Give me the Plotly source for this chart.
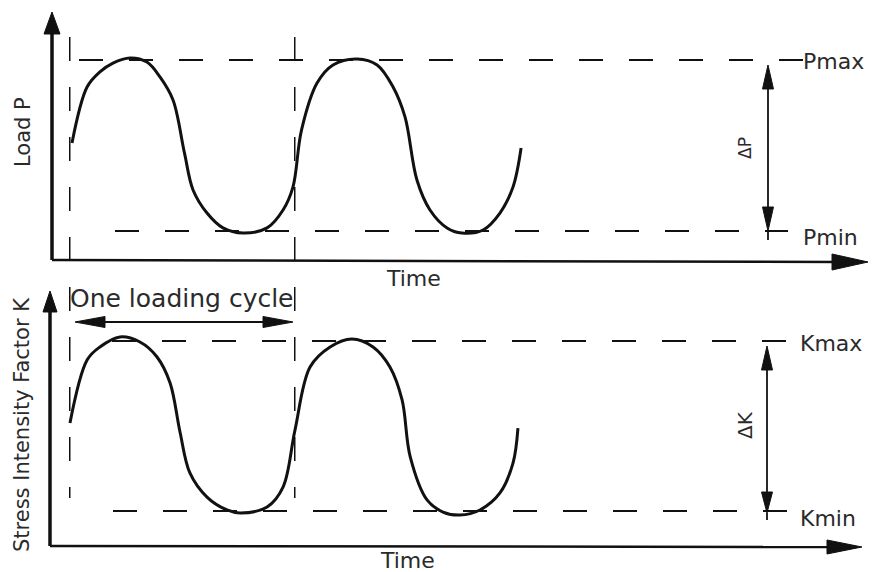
import plotly.graph_objects as go

# ---------------- data ----------------
# time in loading cycles, load / stress intensity normalised (min = 0, max = 1)
time_load = [0.000, 0.067, 0.124, 0.182, 0.258, 0.333, 0.391, 0.449, 0.500, 0.538,
             0.600, 0.671, 0.760, 0.867, 0.938, 0.982, 1.020, 1.089, 1.160, 1.267,
             1.356, 1.427, 1.480, 1.533, 1.591, 1.667, 1.733, 1.827, 1.902, 1.960,
             1.996]
load_P = [0.515, 0.842, 0.930, 0.982, 1.012, 0.988, 0.901, 0.766, 0.455, 0.240,
          0.105, 0.018, -0.012, 0.018, 0.123, 0.257, 0.590, 0.865, 0.971, 1.006,
          0.971, 0.842, 0.667, 0.298, 0.123, 0.018, -0.012, 0.006, 0.105, 0.257,
          0.485]

time_k = [-0.009, 0.067, 0.124, 0.213, 0.302, 0.378, 0.436, 0.480, 0.524, 0.600,
          0.689, 0.747, 0.867, 0.938, 0.991, 1.058, 1.147, 1.244, 1.338, 1.413,
          1.467, 1.503, 1.578, 1.649, 1.724, 1.813, 1.902, 1.960, 1.982]
stress_K = [0.518, 0.888, 0.965, 1.024, 0.994, 0.906, 0.753, 0.465, 0.224, 0.082,
            0.006, -0.012, 0.024, 0.141, 0.476, 0.847, 0.965, 1.012, 0.965, 0.847,
            0.653, 0.320, 0.065, -0.006, -0.024, 0.006, 0.106, 0.282, 0.488]

P_MAX, P_MIN = 1.0, 0.0
K_MAX, K_MIN = 1.0, 0.0
cycle_bounds = [-0.01, 0.99]

label_load = "Load P"
label_k = "Stress Intensity Factor K"
label_time = "Time"
label_cycle = "One loading cycle"
label_pmax, label_pmin = "Pmax", "Pmin"
label_kmax, label_kmin = "Kmax", "Kmin"
label_dp, label_dk = "ΔP", "ΔK"

# ---------------- layout helpers ----------------
W, H = 872, 572
INK = "#111111"
TXT = "#2a2a2a"
FONT = "DejaVu Sans"


def X(px):
    return px / W


def Y(py):
    return 1 - py / H


def t_of(px):
    return (px - 72) / 225.0


fig = go.Figure()

fig.add_trace(go.Scatter(x=time_load, y=load_P, mode="lines", xaxis="x", yaxis="y",
                         line=dict(color=INK, width=3, shape="spline", smoothing=1.0),
                         hoverinfo="skip", showlegend=False))
fig.add_trace(go.Scatter(x=time_k, y=stress_K, mode="lines", xaxis="x2", yaxis="y2",
                         line=dict(color=INK, width=3, shape="spline", smoothing=1.0),
                         hoverinfo="skip", showlegend=False))

shapes = []
DASH = "24px,26px"

# reference levels (dashed)
shapes.append(dict(type="line", xref="x", yref="y", x0=t_of(79), x1=t_of(803), y0=P_MAX, y1=P_MAX,
                   line=dict(color=INK, width=2, dash=DASH)))
shapes.append(dict(type="line", xref="x", yref="y", x0=t_of(115), x1=t_of(788), y0=P_MIN, y1=P_MIN,
                   line=dict(color=INK, width=2, dash=DASH)))
shapes.append(dict(type="line", xref="x2", yref="y2", x0=t_of(112), x1=t_of(788), y0=K_MAX, y1=K_MAX,
                   line=dict(color=INK, width=2, dash=DASH)))
shapes.append(dict(type="line", xref="x2", yref="y2", x0=t_of(113), x1=t_of(788), y0=K_MIN, y1=K_MIN,
                   line=dict(color=INK, width=2, dash=DASH)))

# cycle boundaries (vertical dashed through both panels)
for cb in cycle_bounds:
    shapes.append(dict(type="line", xref="x", yref="paper", x0=cb, x1=cb, y0=Y(37), y1=Y(498),
                       line=dict(color=INK, width=1.5, dash=DASH)))


def seg(x0, y0, x1, y1, w):
    return dict(type="line", xref="paper", yref="paper", x0=X(x0), y0=Y(y0), x1=X(x1), y1=Y(y1),
                line=dict(color=INK, width=w))


def tri(tip, base_c, half, vertical):
    tx, ty = tip
    if vertical:
        bx, by = tx, base_c
        pts = [(tx, ty), (bx - half, by), (bx + half, by)]
    else:
        bx, by = base_c, ty
        pts = [(tx, ty), (bx, by - half), (bx, by + half)]
    path = "M {:.5f},{:.5f} L {:.5f},{:.5f} L {:.5f},{:.5f} Z".format(
        X(pts[0][0]), Y(pts[0][1]), X(pts[1][0]), Y(pts[1][1]), X(pts[2][0]), Y(pts[2][1]))
    return dict(type="path", xref="paper", yref="paper", path=path,
                fillcolor=INK, line=dict(color=INK, width=1))


# axes with arrows
shapes.append(seg(52, 260, 52, 30, 3.5))
shapes.append(tri((52, 12), 34, 8, True))
shapes.append(seg(52, 260, 840, 262, 2.5))
shapes.append(tri((868, 262), 832, 8, False))

shapes.append(seg(50, 546, 50, 305, 3.5))
shapes.append(tri((50, 291), 312, 7, True))
shapes.append(seg(50, 546, 835, 547, 2.5))
shapes.append(tri((862, 547), 827, 7, False))

# delta P / delta K double arrows
shapes.append(seg(768, 80, 768, 215, 1.8))
shapes.append(tri((768, 65), 89, 5.5, True))
shapes.append(tri((768, 231), 207, 5.5, True))
shapes.append(seg(768, 231, 768, 240, 1.8))

shapes.append(seg(767, 362, 767, 500, 1.8))
shapes.append(tri((767, 346), 370, 5.5, True))
shapes.append(tri((767, 513), 492, 5.5, True))
shapes.append(seg(767, 513, 767, 520, 1.8))

# one loading cycle arrow
shapes.append(seg(90, 322, 280, 322, 2))
shapes.append(tri((75, 322), 105, 5.5, False))
shapes.append(tri((293, 322), 263, 5.5, False))

annotations = []


def txt(s, x, y, size, angle=0, xanchor="center"):
    annotations.append(dict(text=s, x=X(x), y=Y(y), xref="paper", yref="paper", showarrow=False,
                            xanchor=xanchor, yanchor="middle", textangle=angle,
                            font=dict(family=FONT, size=size, color=TXT)))


txt(label_load, 23, 132, 21, -90)
txt(label_k, 22, 425, 21, -90)
txt(label_time, 413, 278, 22)
txt(label_time, 407, 560, 22)
txt(label_pmax, 801, 62, 22, xanchor="left")
txt(label_pmin, 801, 237, 22, xanchor="left")
txt(label_kmax, 798, 343, 22, xanchor="left")
txt(label_kmin, 798, 518, 22, xanchor="left")
txt(label_dp, 745, 148, 17, -90)
txt(label_dk, 745, 425, 20, -90)
txt(label_cycle, 68, 298, 25, xanchor="left")

hidden = dict(visible=False, showgrid=False, zeroline=False, fixedrange=True)
fig.update_layout(
    width=W, height=H,
    margin=dict(l=0, r=0, t=0, b=0),
    paper_bgcolor="white", plot_bgcolor="white",
    showlegend=False,
    xaxis=dict(domain=[0, 1], range=[t_of(0), t_of(W)], anchor="y", **hidden),
    yaxis=dict(domain=[0.5, 1], range=[-(286 - 231) / 171.0, 231 / 171.0], anchor="x", **hidden),
    xaxis2=dict(domain=[0, 1], range=[t_of(0), t_of(W)], anchor="y2", **hidden),
    yaxis2=dict(domain=[0, 0.5], range=[(511 - 572) / 170.0, (511 - 286) / 170.0], anchor="x2", **hidden),
    shapes=shapes,
    annotations=annotations,
)

fig.write_html("out.html")
